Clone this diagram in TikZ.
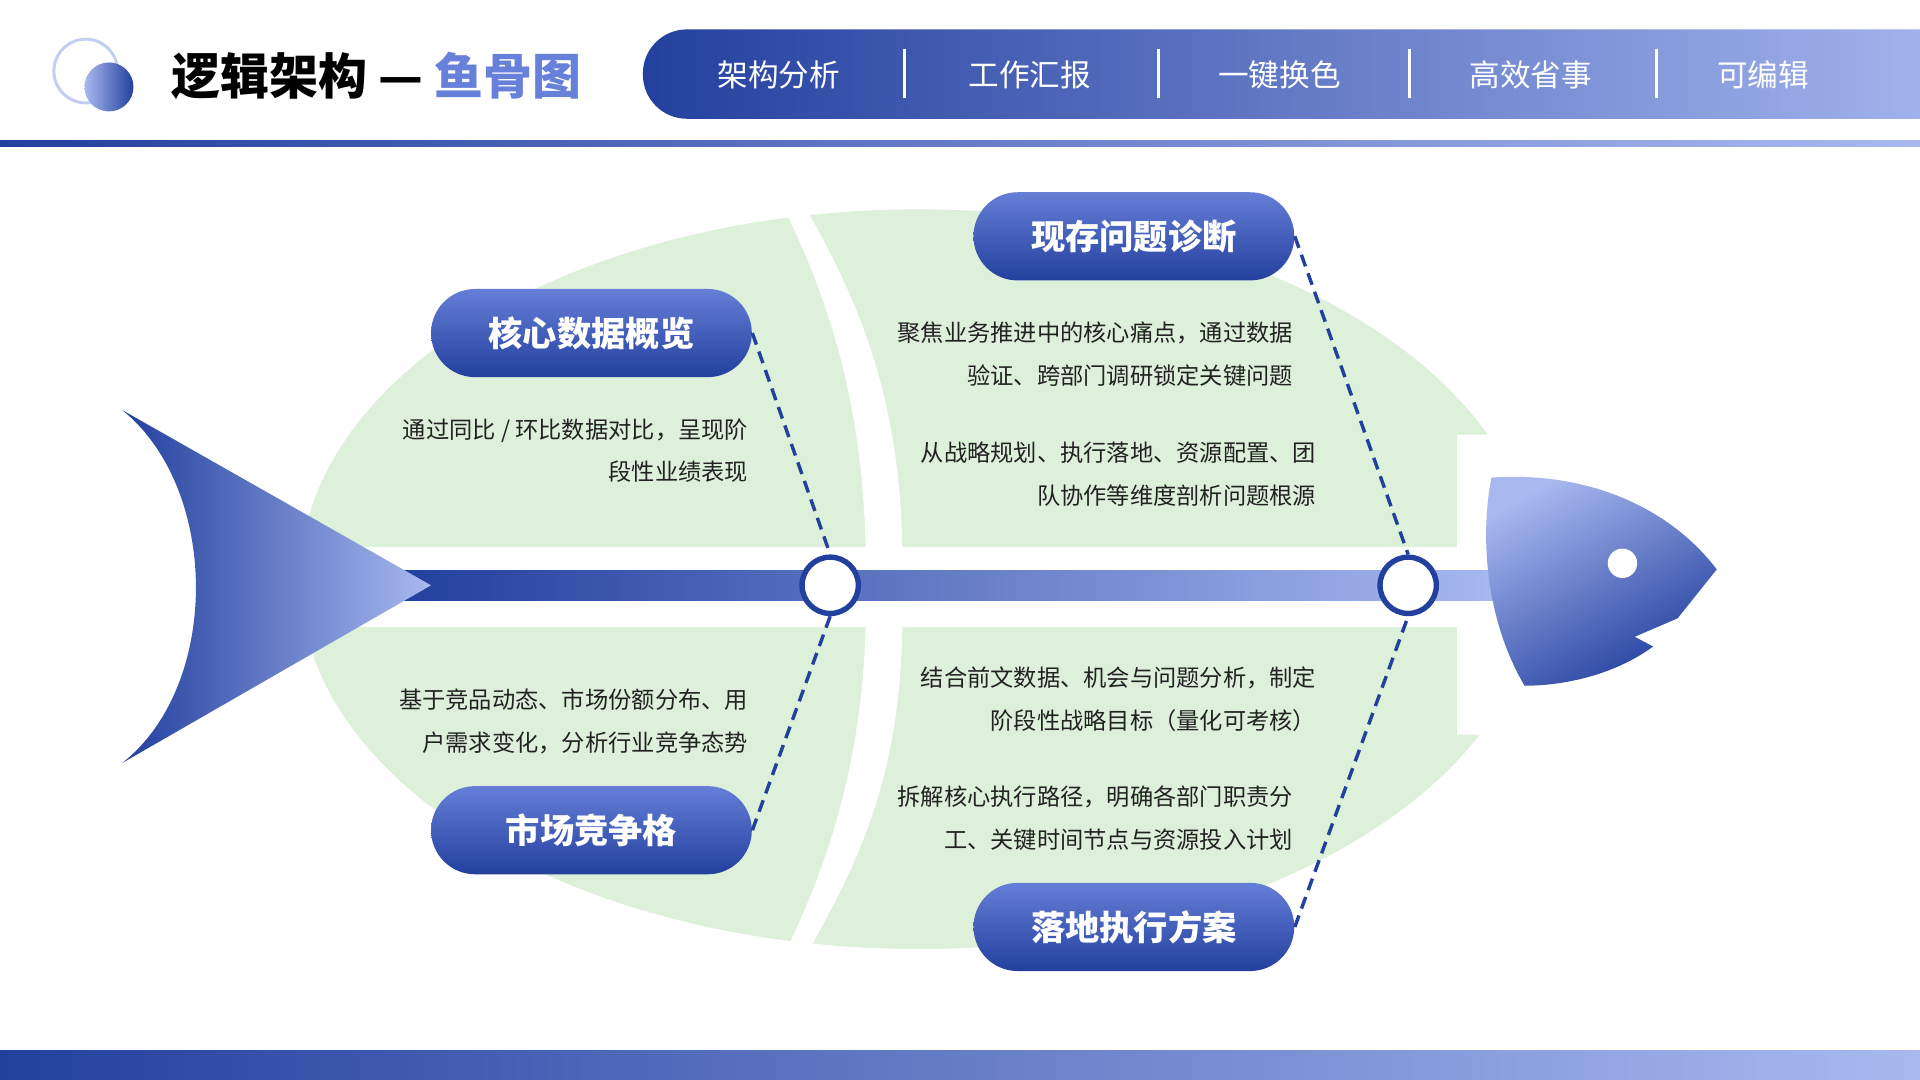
\documentclass[tikz,border=0pt]{standalone}
\usepackage{fontspec}
\setmainfont{Noto Sans CJK SC}
\usetikzlibrary{shapes.misc}
\definecolor{dkb}{HTML}{23409E}
\definecolor{mdb}{HTML}{4A68D0}
\definecolor{ltb}{HTML}{A9B9F0}
\definecolor{grn}{HTML}{DDF1DA}
\definecolor{txt}{HTML}{222222}
\tikzset{
 pill/.style={rounded rectangle,minimum width=131pt,minimum height=36pt,left color=mdb!85!white,right color=dkb,shading angle=0,text=white,font=\bfseries\fontsize{14}{16}\selectfont,inner sep=0pt},
 body/.style={align=right,font=\fontsize{9.5}{17.5}\selectfont,text=txt,anchor=east},
 nav/.style={text=white,font=\fontsize{12.5}{14}\selectfont},
 dashline/.style={dkb,dash pattern=on 5pt off 3pt,line width=1.4pt},
 ring/.style={circle,draw=dkb,line width=2.2pt,fill=white,minimum size=23pt,inner sep=0pt},
}
\begin{document}
\begin{tikzpicture}[x=0.5pt,y=-0.5pt]
\useasboundingbox (0,0) rectangle (1568,882);
\fill[white] (0,0) rectangle (1568,882);
% header
\draw[ltb!70,line width=1.2pt,fill=white] (70,58) circle (26);
\shade[left color=ltb,right color=dkb] (89,71) circle (20);
\node[anchor=west,font=\bfseries\fontsize{20}{22}\selectfont,text=black] (title) at (133,62) {逻辑架构 — \textcolor{mdb!70!ltb}{鱼骨图}};
\begin{scope}
\clip (0,0) rectangle (1568,882);
\shade[left color=dkb,right color=ltb,rounded corners=18pt] (525,24) rectangle (1640,97);
\end{scope}
\node[nav] (n1) at (636,61) {架构分析};
\node[nav] (n2) at (841,61) {工作汇报};
\node[nav] (n3) at (1045,61) {一键换色};
\node[nav] (n4) at (1250,61) {高效省事};
\node[nav] (n5) at (1440,61) {可编辑};
\foreach \x in {739,946,1151,1353} \draw[white,line width=1.2pt] (\x,40) -- (\x,80);
\shade[left color=dkb,right color=ltb] (0,115) rectangle (1568,120);
\shade[left color=dkb,right color=ltb] (0,858) rectangle (1568,882);
% fish body
\fill[grn] (750,473) ellipse (505 and 302);
\fill[white] (640,170) .. controls (690,270) and (705,360) .. (707,450) -- (737,450) .. controls (735,330) and (705,250) .. (655,165) -- cycle;
\fill[white] (640,780) .. controls (690,680) and (705,590) .. (707,510) -- (737,510) .. controls (735,630) and (705,700) .. (655,785) -- cycle;
\fill[white] (200,447) rectangle (1300,512);
\fill[white] (1190,355) -- (1260,355) -- (1270,600) -- (1190,600) -- cycle;
\fill[white] (200,150) rectangle (250,800);
% spine
\shade[left color=dkb,right color=ltb] (330,466) rectangle (1235,490);
% tail
\shade[left color=dkb,right color=ltb] (100,335) -- (352,478) -- (100,623) .. controls (180,560) and (180,400) .. cycle;
% head
\shade[left color=ltb,right color=dkb,shading angle=30] (1218,390) .. controls (1290,385) and (1360,410) .. (1402,465) -- (1370,505) -- (1335,520) -- (1350,528) .. controls (1320,550) and (1280,560) .. (1245,560) .. controls (1210,500) and (1210,430) .. cycle;
\fill[white] (1325,460) circle (12);
% rings
\node[ring] (r1) at (678,478) {};
\node[ring] (r2) at (1150,478) {};
% pills
\node[pill] (p1) at (483,272) {核心数据概览};
\node[pill] (p2) at (483,678) {市场竞争格};
\node[pill] (p3) at (926,193) {现存问题诊断};
\node[pill] (p4) at (926,757) {落地执行方案};
\draw[dashline] (p1.east) -- (r1.north);
\draw[dashline] (p2.east) -- (r1.south);
\draw[dashline] (p3.east) -- (r2.north);
\draw[dashline] (p4.east) -- (r2.south);
% texts
\node[body] (t1) at (618,368) {通过同比 / 环比数据对比，呈现阶\\段性业绩表现};
\node[body] (t2) at (618,589) {基于竞品动态、市场份额分布、用\\户需求变化，分析行业竞争态势};
\node[body] (t3) at (1063,289) {聚焦业务推进中的核心痛点，通过数据\\验证、跨部门调研锁定关键问题};
\node[body] (t4) at (1082,387) {从战略规划、执行落地、资源配置、团\\队协作等维度剖析问题根源};
\node[body] (t5) at (1082,571) {结合前文数据、机会与问题分析，制定\\阶段性战略目标（量化可考核）};
\node[body] (t6) at (1063,668) {拆解核心执行路径，明确各部门职责分\\工、关键时间节点与资源投入计划};
\end{tikzpicture}
\end{document}
